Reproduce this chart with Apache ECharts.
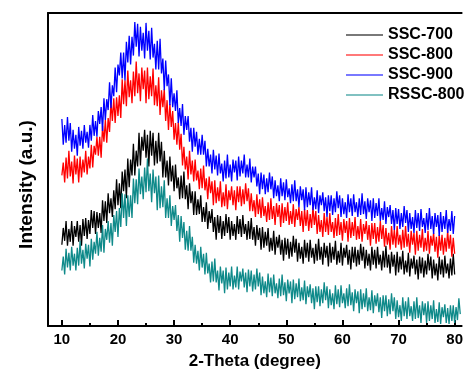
<!DOCTYPE html>
<html>
<head>
<meta charset="utf-8">
<script src="https://cdn.jsdelivr.net/npm/echarts@6/dist/echarts.min.js"></script>
<style>
  html, body { margin: 0; padding: 0; background: #fff; }
  #chart { width: 466px; height: 375px; }
</style>
</head>
<body>
<div id="chart"></div>
<script>
// 2-theta sampling: starts at 10 deg, one reading every 0.25 deg
const thetaStart = 10
const thetaStep = 0.25

const seriesNames = ['SSC-700', 'SSC-800', 'SSC-900', 'RSSC-800']
const seriesColors = ['#000000', '#ff0000', '#0000ff', '#0f8a8a']

const xTicks = [10, 20, 30, 40, 50, 60, 70, 80]
const xMinorTicks = [15, 25, 35, 45, 55, 65, 75]

// intensity (arbitrary units, curves keep their vertical offsets)
const ssc700 = [
    82, 99, 86, 106, 81, 98, 85, 106, 81, 101, 90, 106, 85, 102, 81, 108, 91, 109, 88, 107,
    93, 117, 99, 116, 93, 115, 99, 114, 94, 127, 106, 126, 104, 134, 114, 129, 110, 137, 118, 148,
    122, 144, 119, 156, 136, 158, 129, 169, 140, 168, 152, 184, 152, 177, 161, 195, 162, 191, 177, 198,
    170, 193, 161, 197, 172, 195, 162, 187, 164, 195, 166, 186, 150, 177, 150, 167, 142, 171, 146, 162,
    136, 163, 139, 150, 128, 152, 129, 156, 128, 142, 118, 144, 124, 136, 112, 136, 112, 128, 113, 132,
    105, 120, 105, 125, 98, 116, 104, 118, 95, 110, 87, 112, 94, 111, 88, 106, 91, 113, 94, 110,
    87, 106, 91, 103, 87, 111, 93, 108, 90, 112, 93, 103, 87, 106, 88, 109, 87, 100, 81, 102,
    87, 99, 77, 100, 79, 95, 81, 99, 75, 89, 76, 96, 72, 90, 79, 92, 72, 87, 66, 89,
    72, 88, 68, 85, 70, 91, 74, 88, 65, 84, 68, 80, 63, 87, 69, 84, 65, 87, 69, 79,
    63, 83, 66, 88, 67, 80, 62, 84, 69, 81, 60, 84, 64, 80, 67, 86, 62, 76, 64, 84,
    61, 79, 69, 82, 62, 77, 57, 80, 64, 80, 60, 77, 62, 83, 66, 80, 58, 77, 61, 73,
    56, 80, 62, 77, 58, 80, 62, 72, 56, 76, 59, 81, 59, 72, 53, 75, 60, 72, 51, 75,
    54, 70, 57, 76, 52, 66, 54, 74, 50, 68, 58, 71, 52, 67, 47, 70, 53, 69, 49, 66,
    52, 73, 56, 70, 48, 67, 51, 63, 46, 70, 52, 67, 49, 71, 53, 63, 48, 68, 51, 73,
    52
]
const ssc800 = [
    152, 165, 145, 170, 149, 177, 151, 166, 144, 172, 153, 169, 145, 171, 150, 168, 155, 177, 153, 171,
    159, 183, 160, 182, 173, 191, 172, 191, 170, 202, 186, 208, 185, 210, 196, 227, 207, 230, 205, 231,
    212, 233, 210, 249, 224, 248, 222, 258, 231, 248, 225, 257, 232, 267, 235, 255, 227, 261, 239, 258,
    225, 261, 229, 252, 232, 260, 223, 243, 222, 251, 213, 238, 221, 239, 207, 228, 198, 224, 201, 217,
    188, 205, 183, 206, 178, 194, 162, 181, 158, 171, 148, 177, 153, 167, 146, 168, 147, 157, 138, 159,
    139, 162, 137, 149, 128, 151, 134, 146, 122, 147, 124, 140, 126, 146, 120, 135, 121, 143, 118, 137,
    127, 141, 122, 137, 117, 141, 125, 141, 121, 138, 123, 144, 126, 139, 116, 134, 116, 127, 110, 133,
    113, 128, 109, 130, 111, 121, 105, 125, 107, 129, 108, 121, 102, 124, 110, 122, 100, 124, 104, 120,
    106, 125, 102, 116, 103, 123, 100, 118, 107, 120, 101, 116, 95, 118, 101, 117, 96, 113, 99, 120,
    102, 116, 93, 112, 95, 107, 90, 114, 95, 110, 92, 114, 95, 105, 89, 109, 91, 113, 92, 105,
    86, 108, 94, 106, 85, 109, 89, 105, 91, 110, 87, 101, 88, 108, 85, 103, 93, 106, 87, 102,
    81, 104, 88, 104, 83, 100, 85, 106, 88, 102, 80, 99, 82, 94, 77, 101, 82, 97, 79, 101,
    82, 92, 77, 97, 79, 101, 80, 93, 74, 96, 82, 94, 72, 96, 76, 92, 79, 98, 75, 89,
    76, 96, 73, 91, 81, 94, 75, 90, 69, 92, 76, 92, 72, 89, 75, 96, 78, 92, 70, 89,
    73
]
const ssc900 = [
    209, 183, 203, 185, 211, 187, 205, 176, 198, 179, 193, 172, 201, 182, 197, 179, 203, 185, 196, 180,
    203, 187, 213, 192, 207, 191, 217, 204, 221, 197, 230, 208, 229, 218, 246, 220, 243, 232, 261, 236,
    264, 253, 276, 250, 276, 248, 287, 266, 293, 264, 292, 273, 307, 282, 305, 272, 302, 278, 296, 270,
    306, 278, 298, 269, 301, 271, 285, 259, 288, 259, 290, 255, 270, 238, 268, 242, 254, 223, 250, 221,
    235, 217, 238, 205, 220, 202, 224, 193, 212, 198, 212, 186, 200, 176, 200, 181, 196, 173, 189, 173,
    193, 173, 187, 161, 179, 161, 173, 154, 178, 158, 172, 152, 174, 154, 164, 146, 167, 149, 173, 150,
    163, 146, 168, 155, 167, 147, 171, 151, 167, 154, 173, 150, 163, 150, 169, 145, 161, 150, 161, 141,
    154, 133, 155, 138, 153, 133, 149, 135, 155, 138, 151, 129, 147, 131, 142, 126, 149, 131, 145, 127,
    148, 130, 139, 124, 143, 126, 147, 126, 138, 120, 141, 127, 138, 117, 140, 120, 135, 122, 140, 117,
    130, 118, 137, 114, 132, 122, 135, 116, 130, 110, 132, 116, 132, 112, 129, 115, 136, 119, 132, 110,
    129, 113, 125, 109, 133, 115, 129, 111, 133, 115, 125, 110, 129, 112, 134, 113, 126, 108, 129, 115,
    127, 106, 129, 109, 124, 111, 129, 106, 119, 107, 126, 103, 120, 110, 122, 103, 117, 97, 119, 103,
    118, 98, 114, 100, 121, 104, 117, 95, 114, 98, 110, 94, 117, 99, 114, 96, 118, 100, 109, 94,
    114, 97, 119, 98, 111, 93, 114, 100, 112, 91, 115, 95, 111, 98, 117, 94, 108, 96, 116, 93,
    111
]
const rssc800 = [
    56, 70, 52, 78, 59, 74, 56, 80, 61, 73, 56, 79, 61, 86, 63, 77, 58, 83, 68, 82,
    60, 88, 67, 85, 73, 95, 71, 89, 75, 102, 74, 98, 87, 106, 84, 104, 81, 112, 95, 116,
    90, 119, 100, 134, 109, 133, 101, 132, 110, 132, 109, 149, 124, 148, 123, 159, 133, 151, 128, 160,
    135, 169, 136, 154, 125, 158, 134, 151, 117, 152, 119, 141, 120, 147, 109, 129, 109, 132, 101, 121,
    107, 122, 96, 112, 85, 111, 89, 105, 77, 96, 76, 101, 76, 90, 64, 82, 63, 76, 56, 80,
    59, 73, 52, 74, 53, 63, 44, 65, 45, 68, 44, 56, 36, 60, 43, 56, 33, 59, 37, 54,
    40, 60, 37, 51, 39, 60, 37, 55, 45, 58, 39, 54, 34, 57, 40, 56, 35, 52, 37, 58,
    40, 54, 31, 50, 33, 45, 29, 53, 34, 49, 30, 52, 33, 43, 28, 48, 30, 52, 31, 44,
    25, 47, 33, 45, 23, 47, 27, 43, 29, 48, 25, 39, 26, 46, 22, 40, 29, 42, 23, 38,
    17, 40, 24, 40, 20, 37, 23, 44, 26, 40, 18, 37, 21, 33, 17, 41, 22, 37, 19, 41,
    23, 33, 18, 38, 20, 42, 21, 34, 15, 37, 23, 35, 13, 37, 17, 33, 19, 38, 15, 29,
    16, 36, 13, 31, 20, 33, 14, 29, 8, 31, 15, 31, 10, 27, 12, 33, 15, 29, 7, 26,
    9, 21, 5, 29, 10, 25, 7, 29, 10, 20, 5, 25, 7, 29, 8, 21, 3, 25, 11, 23,
    3, 25, 5, 21, 7, 26, 3, 17, 4, 24, 2, 19, 9, 22, 3, 18, 2, 21, 5, 21,
    3, 19, 6, 28, 12
]

const intensities = [ssc700, ssc800, ssc900, rssc800]

const fontFamily = '"Liberation Sans", Arial, sans-serif'

const chart = echarts.init(document.getElementById('chart'), null, { renderer: 'canvas' })

const options = {
    animation: false,
    backgroundColor: '#fff',
    grid: {
        left: 48,
        right: 0,
        top: 13,
        bottom: 46,
    },
    legend: {
        orient: 'vertical',
        left: 341,
        top: 22,
        icon: 'rect',
        itemWidth: 37,
        itemHeight: 1.5,
        itemGap: 4,
        data: seriesNames,
        itemStyle: { opacity: 0.7 },
        textStyle: {
            fontFamily: fontFamily,
            fontWeight: 'bold',
            fontSize: 16,
            color: '#000',
        },
    },
    xAxis: [
        {
            type: 'value',
            min: 7.53,
            max: 81.24,
            position: 'bottom',
            name: '2-Theta (degree)',
            nameLocation: 'middle',
            nameGap: 27,
            nameTextStyle: {
                fontFamily: fontFamily,
                fontWeight: 'bold',
                fontSize: 17,
                color: '#000',
            },
            axisLine: { lineStyle: { color: '#000', width: 2 } },
            axisTick: {
                inside: true,
                length: 6,
                customValues: xTicks,
                lineStyle: { color: '#000', width: 2 },
            },
            axisLabel: {
                customValues: xTicks,
                margin: 6,
                fontFamily: fontFamily,
                fontWeight: 'bold',
                fontSize: 15,
                color: '#000',
            },
            splitLine: { show: false },
        },
        {
            // minor ticks at the half decades
            type: 'value',
            min: 7.53,
            max: 81.24,
            position: 'bottom',
            axisLine: { show: false },
            axisTick: {
                inside: true,
                length: 3,
                customValues: xMinorTicks,
                lineStyle: { color: '#000', width: 2 },
            },
            axisLabel: { show: false },
            splitLine: { show: false },
        },
        {
            // top frame line
            type: 'value',
            min: 7.53,
            max: 81.24,
            position: 'top',
            axisLine: { lineStyle: { color: '#000', width: 2 } },
            axisTick: { show: false },
            axisLabel: { show: false },
            splitLine: { show: false },
        },
    ],
    yAxis: {
        type: 'value',
        min: 0,
        max: 316,
        name: 'Intensity (a.u.)',
        nameLocation: 'middle',
        nameGap: 12,
        nameTextStyle: {
            fontFamily: fontFamily,
            fontWeight: 'bold',
            fontSize: 19,
            color: '#000',
            padding: [0, 30, 0, 0],
        },
        axisLine: { show: true, lineStyle: { color: '#000', width: 2 } },
        axisTick: { show: false },
        axisLabel: { show: false },
        splitLine: { show: false },
    },
    series: seriesNames.map((name, k) => ({
        name: name,
        type: 'line',
        xAxisIndex: 0,
        symbol: 'none',
        sampling: null,
        clip: true,
        color: seriesColors[k],
        lineStyle: { color: seriesColors[k], width: 1.3 },
        data: intensities[k].map((v, i) => [thetaStart + i * thetaStep, v]),
    })),
}

chart.setOption(options)
</script>
</body>
</html>
